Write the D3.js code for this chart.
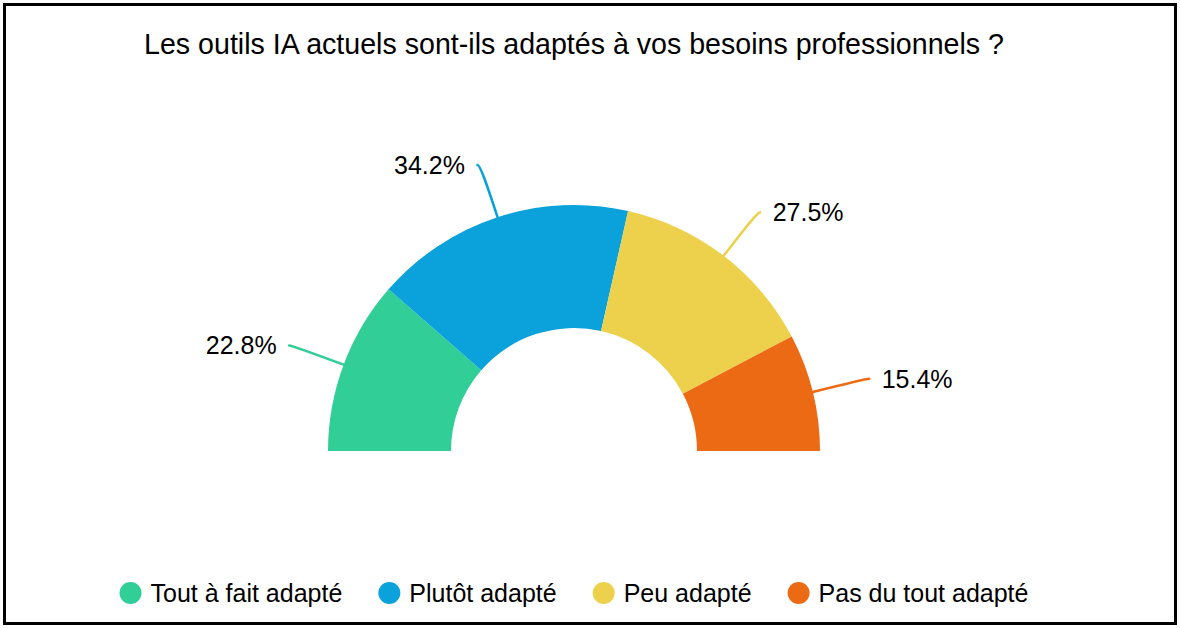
<!DOCTYPE html>
<html>
<head>
<meta charset="utf-8">
<script src="https://cdn.jsdelivr.net/npm/d3@7"></script>
<style>
  body { margin: 0; background: #fff; }
  text { font-family: "Liberation Sans", Arial, Helvetica, sans-serif; fill: #000; }
</style>
</head>
<body>
<script>
// chart data
var categories = ["Tout à fait adapté", "Plutôt adapté", "Peu adapté", "Pas du tout adapté"];
var shares = [22.8, 34.2, 27.5, 15.4];
var colors = ["#31ce97", "#0ba1db", "#edd14d", "#ec6a13"];
var title = "Les outils IA actuels sont-ils adaptés à vos besoins professionnels ?";

var w = 1180, h = 628;
var cx = 574, cy = 451;
var outerR = 246, innerR = 123;
var len1 = 55, len2 = 3, labelGap = 12.5;

var svg = d3.select("body").append("svg")
  .attr("width", w)
  .attr("height", h);

// frame
svg.append("rect")
  .attr("x", 4.5).attr("y", 4.5)
  .attr("width", w - 9).attr("height", h - 9)
  .style("fill", "#fff").style("stroke", "#000").style("stroke-width", 3);

// title
svg.append("text")
  .attr("x", cx).attr("y", 54)
  .attr("text-anchor", "middle")
  .style("font-size", "28.6px")
  .text(title);

var color = d3.scaleOrdinal().domain(categories).range(colors);

var pie = d3.pie()
  .sort(null)
  .startAngle(-Math.PI / 2)
  .endAngle(Math.PI / 2)
  .value(function(d) { return d.value; });

var arcs = pie(categories.map(function(c, i) { return { name: c, value: shares[i] }; }));

var arc = d3.arc().innerRadius(innerR).outerRadius(outerR);

var g = svg.append("g").attr("transform", "translate(" + cx + "," + cy + ")");

g.selectAll("path.slice")
  .data(arcs)
  .enter().append("path")
  .attr("class", "slice")
  .attr("d", arc)
  .style("fill", function(d) { return color(d.data.name); });

// polar helper (d3 angle: 0 at top, clockwise)
function pt(a, r) { return [r * Math.sin(a), -r * Math.cos(a)]; }

// leader lines + labels
arcs.forEach(function(d) {
  var a = (d.startAngle + d.endAngle) / 2;
  var side = Math.sin(a) < 0 ? -1 : 1;
  var p0 = pt(a, outerR);
  var p1 = pt(a, outerR + len1);
  var p2 = [p1[0] + side * len2, p1[1]];
  var c1 = [p0[0] + (p1[0] - p0[0]) * 0.55, p0[1] + (p1[1] - p0[1]) * 0.55];

  g.append("path")
    .attr("d", "M" + p0 + "C" + c1 + " " + p1 + " " + p2)
    .style("fill", "none")
    .style("stroke", color(d.data.name))
    .style("stroke-width", 2.5)
    .style("stroke-linecap", "round");

  g.append("text")
    .attr("x", p2[0] + side * labelGap)
    .attr("y", p2[1])
    .attr("dy", "0.36em")
    .attr("text-anchor", side < 0 ? "end" : "start")
    .style("font-size", "25px")
    .text(d.data.value.toFixed(1) + "%");
});

// legend
var legendY = 593, dotR = 11, dotToText = 20, itemGap = 47;
var legend = svg.append("g");
var items = legend.selectAll("g.item")
  .data(categories)
  .enter().append("g").attr("class", "item");

items.append("circle")
  .attr("r", dotR)
  .attr("cy", legendY)
  .style("fill", function(d) { return color(d); });

items.append("text")
  .attr("y", legendY)
  .attr("dy", "0.36em")
  .style("font-size", "25px")
  .text(function(d) { return d; });

var xpos = 0, starts = [];
items.each(function() {
  starts.push(xpos);
  var tw = d3.select(this).select("text").node().getComputedTextLength();
  xpos += dotToText + tw + itemGap;
});
var totalW = xpos - itemGap + dotR;
var x0 = cx - totalW / 2 + dotR;

items.each(function(d, i) {
  var sel = d3.select(this);
  sel.select("circle").attr("cx", x0 + starts[i]);
  sel.select("text").attr("x", x0 + starts[i] + dotToText);
});
</script>
</body>
</html>
